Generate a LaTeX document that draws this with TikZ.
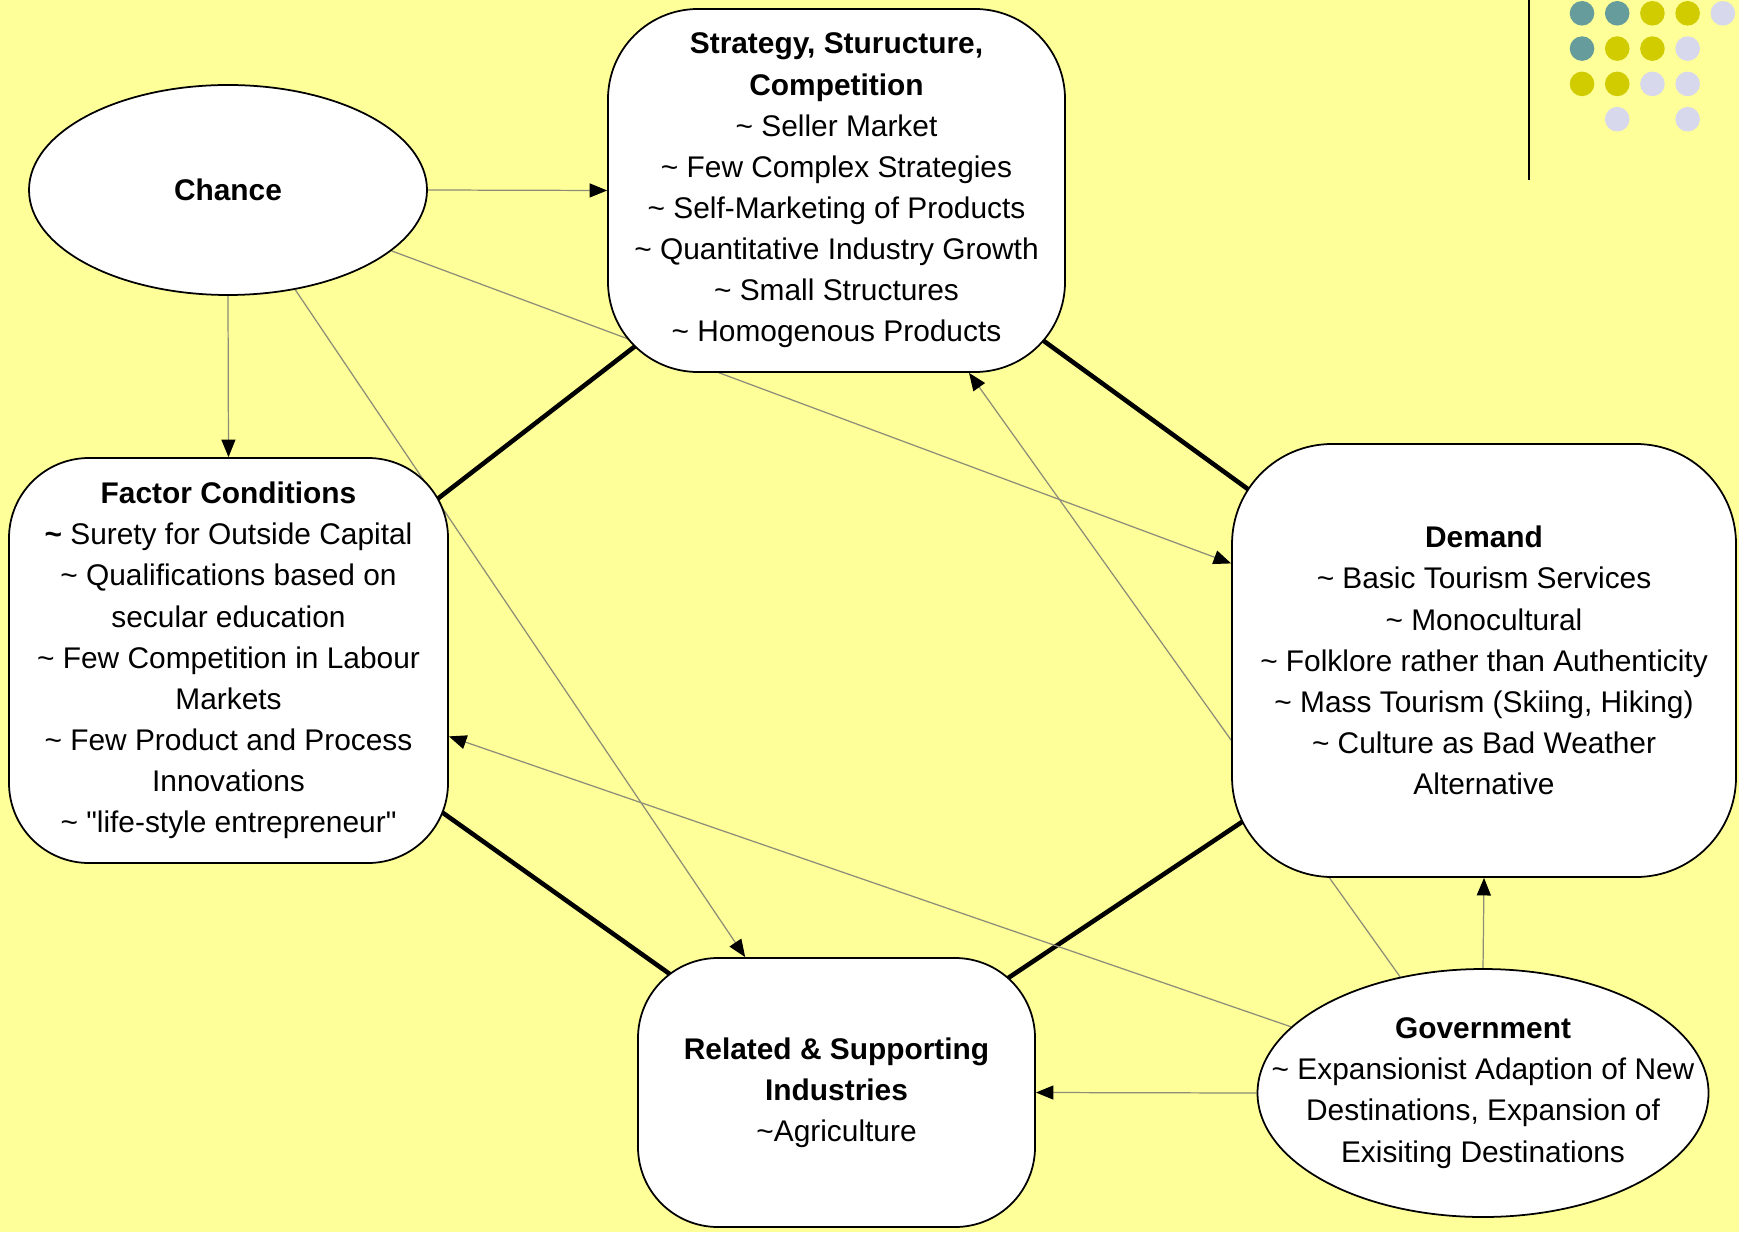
\documentclass[tikz,border=0pt]{standalone}
\usepackage{fontspec}
\setmainfont{Liberation Sans}
\usetikzlibrary{positioning,arrows.meta,shapes.geometric,backgrounds}

\definecolor{bgyellow}{HTML}{FFFF99}
\definecolor{dotteal}{HTML}{669C9C}
\definecolor{dotolive}{HTML}{D1CC00}
\definecolor{dotlav}{HTML}{D8D8EC}
\definecolor{linkgray}{HTML}{8C8C78}

\begin{document}
\begin{tikzpicture}[
  every node/.style={font=\fontsize{8.5pt}{11.7pt}\selectfont},
  box/.style={draw=black, fill=white, rounded corners=0.9cm, align=center, inner sep=0pt, line width=0.5pt},
  oval/.style={ellipse, draw=black, fill=white, inner sep=0pt, line width=0.5pt},
  txt/.style={align=center, inner sep=0pt},
  arr/.style={draw=linkgray, line width=0.35pt, -{Triangle[length=5pt, width=4pt, color=black]}},
  tie/.style={draw=black, line width=1.3pt}
]
\useasboundingbox (0,0) rectangle (17.39,12.32);

% Outer Influences
\node[oval, minimum width=3.98cm, minimum height=2.10cm] (chance) at (2.28,10.42) {\textbf{Chance}};
\node[oval, minimum width=4.51cm, minimum height=2.48cm] (gov) at (14.83,1.39) {};
\node[txt] (govtext) at (gov) {\textbf{Government}\\\textasciitilde{} Expansionist Adaption of New\\Destinations, Expansion of\\Exisiting Destinations};

% Diamond Boxes
\node[box, minimum width=4.57cm, minimum height=3.63cm] (strat) at (8.365,10.415)
  {\textbf{Strategy, Sturucture,}\\\textbf{Competition}\\\textasciitilde{} Seller Market\\\textasciitilde{} Few Complex Strategies\\\textasciitilde{} Self-Marketing of Products\\\textasciitilde{} Quantitative Industry Growth\\\textasciitilde{} Small Structures\\\textasciitilde{} Homogenous Products};
\node[box, rounded corners=0.8cm, minimum width=4.39cm, minimum height=4.05cm] (factor) at (2.285,5.715)
  {\textbf{Factor Conditions}\\\textbf{\textasciitilde{}} Surety for Outside Capital\\\textasciitilde{} Qualifications based on\\secular education\\\textasciitilde{} Few Competition in Labour\\Markets\\\textasciitilde{} Few Product and Process\\Innovations\\\textasciitilde{} \textquotedbl life-style entrepreneur\textquotedbl};
\node[box, rounded corners=1cm, minimum width=5.04cm, minimum height=4.33cm] (demand) at (14.84,5.715)
  {\textbf{Demand}\\\textasciitilde{} Basic Tourism Services\\\textasciitilde{} Monocultural\\\textasciitilde{} Folklore rather than Authenticity\\\textasciitilde{} Mass Tourism (Skiing, Hiking)\\\textasciitilde{} Culture as Bad Weather\\Alternative};
\node[box, rounded corners=0.8cm, minimum width=3.97cm, minimum height=2.69cm] (related) at (8.365,1.395)
  {\textbf{Related \& Supporting}\\\textbf{Industries}\\\textasciitilde Agriculture};

\begin{scope}[on background layer]
\fill[bgyellow] (0,0) rectangle (17.39,12.32);

% Diamond Links
\draw[tie] (strat.center) -- (factor.center);
\draw[tie] (strat.center) -- (demand.center);
\draw[tie] (factor.center) -- (related.center);
\draw[tie] (demand.center) -- (related.center);

% Chance Arrows
\draw[arr] (chance.east) -- (strat.west);
\draw[arr] (chance.south) -- (factor.north);
\draw[arr] (chance) -- (demand.159);
\draw[arr] (chance) -- (related.124);

% Government Arrows
\draw[arr] (gov) -- (strat.-54);
\draw[arr] (gov) -- (factor.-19);
\draw[arr] (gov.north) -- (demand.south);
\draw[arr] (gov.west) -- (related.east);
\end{scope}

% Corner Decoration
\draw[line width=0.6pt] (15.29,12.32) -- (15.29,10.52);
\foreach \col/\row/\c in {0/0/dotteal, 1/0/dotteal, 2/0/dotolive, 3/0/dotolive, 4/0/dotlav,
    0/1/dotteal, 1/1/dotolive, 2/1/dotolive, 3/1/dotlav,
    0/2/dotolive, 1/2/dotolive, 2/2/dotlav, 3/2/dotlav,
    1/3/dotlav, 3/3/dotlav}
  \fill[\c] (15.82+0.352*\col, 12.187-0.353*\row) circle (0.123);
\end{tikzpicture}
\end{document}
